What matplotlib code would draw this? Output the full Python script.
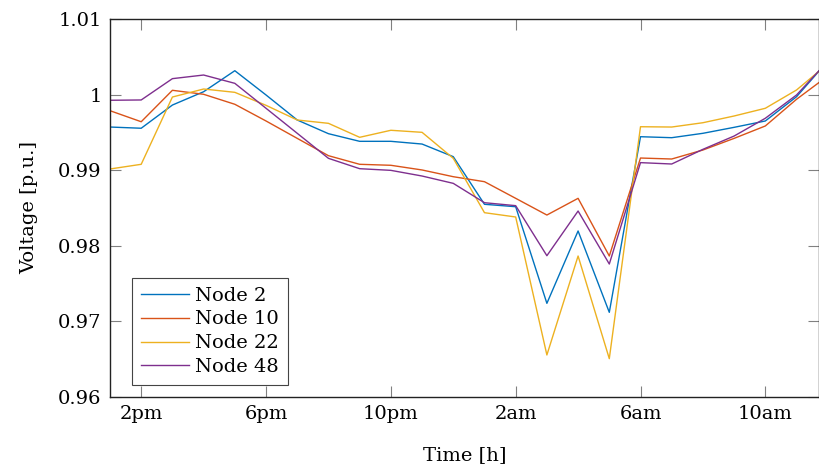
import numpy as np
import matplotlib
matplotlib.use("Agg")
import matplotlib.pyplot as plt
from matplotlib.ticker import FuncFormatter

# hours: 13 = 1pm ... 36 = noon next day
hours = np.arange(13, 37)

node2 = [0.99571, 0.99555, 0.99862, 1.00038, 1.00316, 0.99995, 0.99664, 0.99483,
         0.99382, 0.99382, 0.99346, 0.99179, 0.98549, 0.98517, 0.97239, 0.98196,
         0.97120, 0.99443, 0.99430, 0.99488, 0.99567, 0.99651, 0.99972, 1.00442]
node10 = [0.99787, 0.99641, 1.00057, 1.00004, 0.99872, 0.99651, 0.99421, 0.99192,
          0.99078, 0.99065, 0.99003, 0.98914, 0.98848, 0.98628, 0.98407, 0.98628,
          0.97865, 0.99161, 0.99148, 0.99267, 0.99421, 0.99585, 0.99938, 1.00246]
node22 = [0.99016, 0.99078, 0.99968, 1.00074, 1.00030, 0.99858, 0.99664, 0.99620,
          0.99435, 0.99528, 0.99501, 0.99157, 0.98438, 0.98381, 0.96556, 0.97865,
          0.96507, 0.99575, 0.99571, 0.99628, 0.99717, 0.99819, 1.00061, 1.00405]
node48 = [0.99925, 0.99929, 1.00211, 1.00259, 1.00149, 0.99819, 0.99488, 0.99157,
          0.99020, 0.98998, 0.98923, 0.98826, 0.98570, 0.98531, 0.97869, 0.98460,
          0.97759, 0.99100, 0.99082, 0.99276, 0.99452, 0.99687, 0.99995, 1.00440]

tick_pos = [14, 18, 22, 26, 30, 34]
tick_lab = ['2pm', '6pm', '10pm', '2am', '6am', '10am']

plt.rcParams['font.family'] = 'DejaVu Serif'
plt.rcParams['font.size'] = 14

fig = plt.figure(figsize=(8.2, 4.7), dpi=100)
ax = fig.add_axes([110/820, 1-397/470, 709/820, 378/470])

ax.plot(hours, node2, color='#0072BD', lw=1.0, label='Node 2')
ax.plot(hours, node10, color='#D95319', lw=1.0, label='Node 10')
ax.plot(hours, node22, color='#EDB120', lw=1.0, label='Node 22')
ax.plot(hours, node48, color='#7E2F8E', lw=1.0, label='Node 48')

ax.set_xlim(13, 35.72)
ax.set_ylim(0.96, 1.01)
ax.set_xticks(tick_pos)
ax.set_xticklabels(tick_lab)
ax.set_yticks([0.96, 0.97, 0.98, 0.99, 1.0, 1.01])
ax.yaxis.set_major_formatter(FuncFormatter(lambda v, p: '%g' % round(v, 2)))
ax.tick_params(direction='in', length=8, width=0.8, color='#808080',
               top=True, right=True, labelsize=14, pad=6)

for s in ax.spines.values():
    s.set_color('#222222')
    s.set_linewidth(1.0)

ax.set_xlabel('Time [h]', fontsize=14, labelpad=16)
ax.set_ylabel('Voltage [p.u.]', fontsize=14, labelpad=14)

leg = ax.legend(loc='lower left', bbox_to_anchor=(0.031, 0.032), borderaxespad=0,
                fancybox=False, framealpha=1, edgecolor='#444444', fontsize=14,
                handlelength=2.5, handletextpad=0.3, labelspacing=0.3,
                borderpad=0.45)
leg.get_frame().set_linewidth(0.8)

fig.savefig('out.png', dpi=100)
